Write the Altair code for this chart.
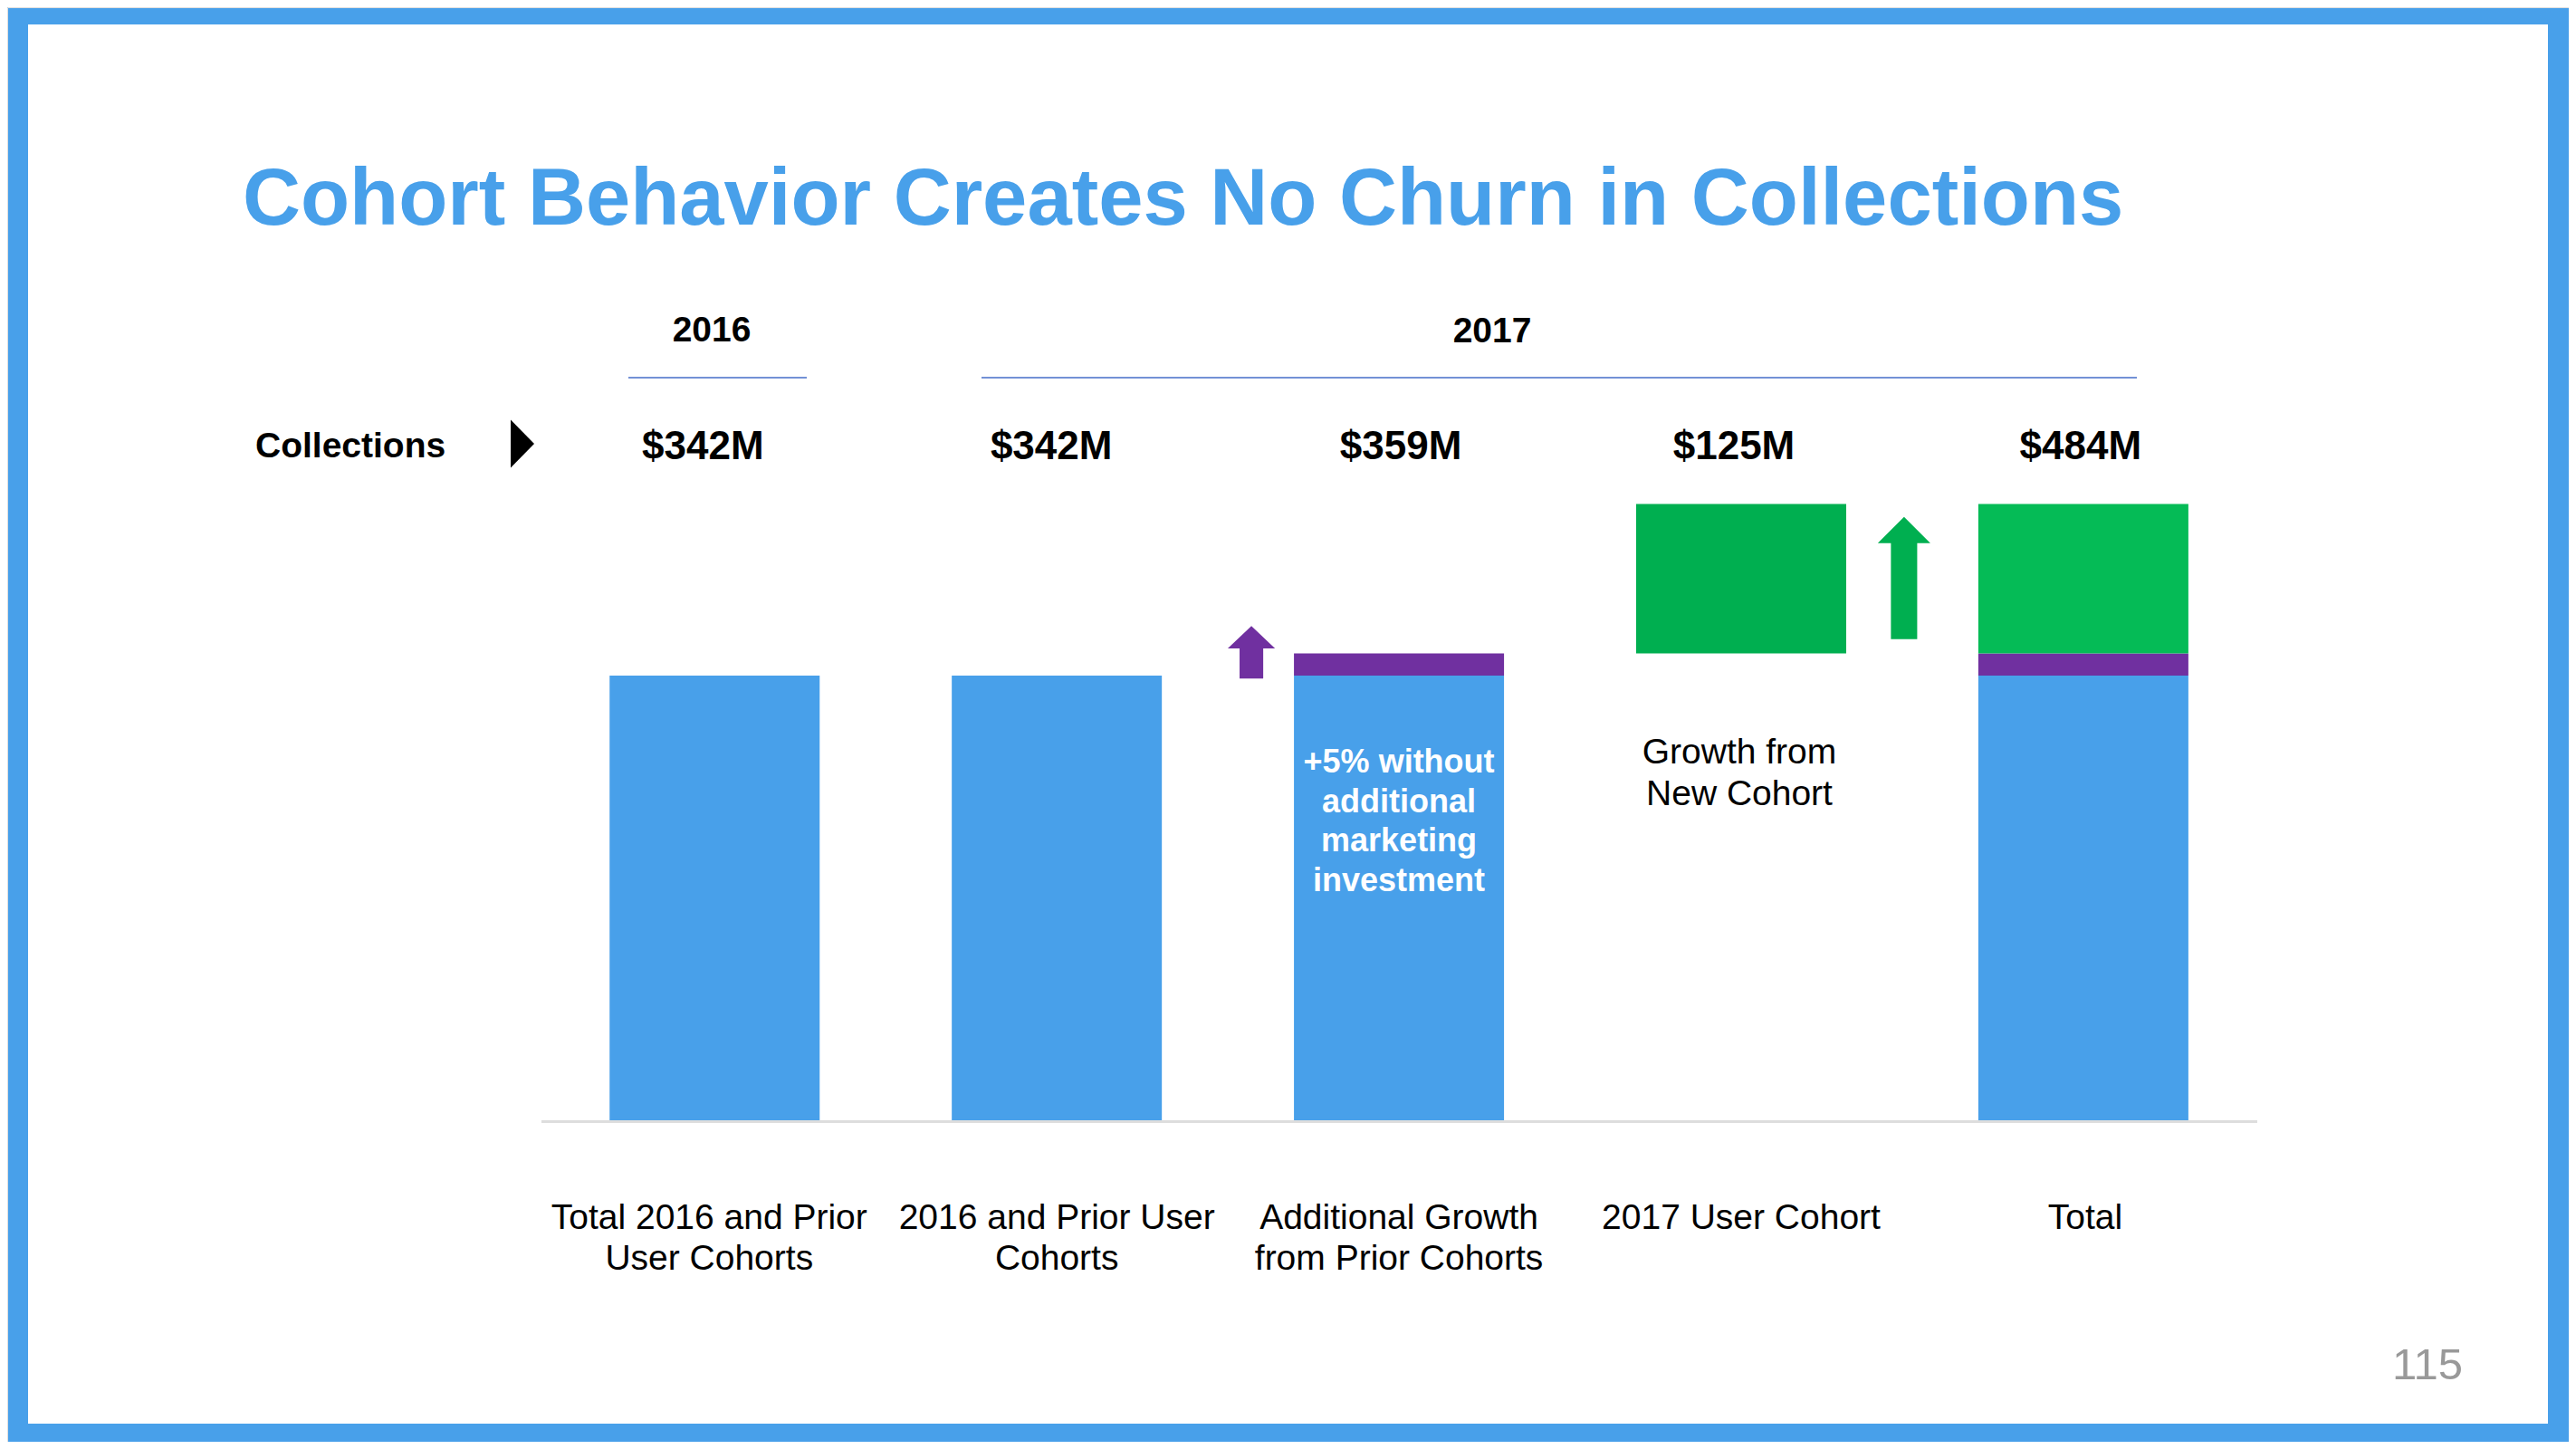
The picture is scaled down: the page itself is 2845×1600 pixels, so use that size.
import altair as alt
import pandas as pd

W, H = 2829, 1584
BLUE = "#48a0ea"
PURPLE = "#7030a0"
GREEN = "#00af50"
GREEN2 = "#05bb56"
FONT = "Liberation Sans"

# ---- data ----
categories = [
    "Total 2016 and Prior User Cohorts",
    "2016 and Prior User Cohorts",
    "Additional Growth from Prior Cohorts",
    "2017 User Cohort",
    "Total",
]
cat_labels = [
    "Total 2016 and Prior\nUser Cohorts",
    "2016 and Prior User\nCohorts",
    "Additional Growth\nfrom Prior Cohorts",
    "2017 User Cohort",
    "Total",
]
collections = ["$342M", "$342M", "$359M", "$125M", "$484M"]

# bar segments ($M, as drawn)
prior_base = [342, 342, 342, 0, 342]
prior_growth = [0, 0, 17, 0, 17]
new_cohort = [0, 0, 0, 115, 115]
new_colors = [GREEN2, GREEN2, GREEN2, GREEN, GREEN2]

title_text = "Cohort Behavior Creates No Churn in Collections"
years = ["2016", "2017"]
page_number = "115"

# small horizontal nudges (px) of the header values and category labels
value_dx = [-13, -6, 2, -8, -3]
label_dx = [-6, 0, 0, 0, 2]

# ---- build tables ----
rows = []
for i, c in enumerate(categories):
    if prior_base[i] > 0:
        rows.append({"slot": i, "cat": c, "start": 0, "end": prior_base[i], "color": BLUE})
    if prior_growth[i] > 0:
        s = 342
        rows.append({"slot": i, "cat": c, "start": s, "end": s + prior_growth[i], "color": PURPLE})
    if new_cohort[i] > 0:
        s = 342 + 17
        rows.append({"slot": i, "cat": c, "start": s, "end": s + new_cohort[i], "color": new_colors[i]})
bars_df = pd.DataFrame(rows)

labels_df = pd.DataFrame({"slot": list(range(len(categories))), "cat": categories,
                          "label": cat_labels, "value": collections})

# layout scales (category slot -> pixels, $M -> pixels)
xscale = alt.Scale(domain=[-2.0541, 5.4054], nice=False, zero=False)
yscale = alt.Scale(domain=[-247.26, 856.03], nice=False, zero=False)
X = alt.X("slot:Q", scale=xscale, axis=None)


def one(text):
    return pd.DataFrame({"t": [text]})


# white slide area
frame = alt.Chart(one("")).mark_rect(color="white").encode(
    x=alt.value(23), x2=alt.value(2806), y=alt.value(19), y2=alt.value(1564)
)

title = alt.Chart(one(title_text)).mark_text(
    align="left", baseline="alphabetic", font=FONT, fontSize=88.6, fontWeight="bold", color=BLUE
).encode(x=alt.value(260), y=alt.value(240), text="t:N")

year16 = alt.Chart(one(years[0])).mark_text(
    align="center", baseline="alphabetic", font=FONT, fontSize=39, fontWeight="bold", color="black"
).encode(x=alt.value(778), y=alt.value(369), text="t:N")
year17 = alt.Chart(one(years[1])).mark_text(
    align="center", baseline="alphabetic", font=FONT, fontSize=39, fontWeight="bold", color="black"
).encode(x=alt.value(1640), y=alt.value(370), text="t:N")

line16 = alt.Chart(one("")).mark_rule(color="#7391d6", strokeWidth=2).encode(
    x=alt.value(686), x2=alt.value(883), y=alt.value(409)
)
line17 = alt.Chart(one("")).mark_rule(color="#7391d6", strokeWidth=2).encode(
    x=alt.value(1076), x2=alt.value(2352), y=alt.value(409)
)

coll = alt.Chart(one("Collections")).mark_text(
    align="left", baseline="alphabetic", font=FONT, fontSize=39, fontWeight="bold", color="black"
).encode(x=alt.value(274), y=alt.value(497), text="t:N")

tri = alt.Chart(one("")).mark_point(
    shape="M -0.49 -1 L 0.49 0 L -0.49 1 Z", size=2809, filled=True, color="black", opacity=1, strokeWidth=0
).encode(x=alt.value(569), y=alt.value(482))

value_layers = []
label_layers = []
for i in range(len(categories)):
    sub = labels_df.iloc[[i]]
    value_layers.append(alt.Chart(sub).mark_text(
        align="center", baseline="alphabetic", font=FONT, fontSize=44, fontWeight="bold",
        color="black", dx=value_dx[i]
    ).encode(x=X, y=alt.value(499), text="value:N"))
    label_layers.append(alt.Chart(sub).mark_text(
        align="center", baseline="alphabetic", font=FONT, fontSize=39, color="black",
        lineBreak="\n", lineHeight=45, dx=label_dx[i]
    ).encode(x=X, y=alt.value(1349), text="label:N"))

baseline = alt.Chart(pd.DataFrame({"v": [0]})).mark_rule(color="#dddddd", strokeWidth=3, yOffset=1.5).encode(
    x=alt.value(590), x2=alt.value(2485), y=alt.Y("v:Q", scale=yscale, axis=None)
)

bars = alt.Chart(bars_df).mark_bar(size=232).encode(
    x=X,
    y=alt.Y("start:Q", scale=yscale, axis=None),
    y2="end:Q",
    color=alt.Color("color:N", scale=None),
)

arrow_purple = alt.Chart(pd.DataFrame({"slot": [2], "v": [360]})).mark_point(
    shape="M -0.45 1 L -0.45 -0.14 L -0.9 -0.14 L 0 -1 L 0.9 -0.14 L 0.45 -0.14 L 0.45 1 Z",
    size=3364, filled=True, color=PURPLE, opacity=1, strokeWidth=0, xOffset=-163,
).encode(x=X, y=alt.Y("v:Q", scale=yscale, axis=None))

arrow_green = alt.Chart(pd.DataFrame({"slot": [4], "v": [417]})).mark_point(
    shape="M -0.215 1 L -0.215 -0.57 L -0.43 -0.57 L 0 -1 L 0.43 -0.57 L 0.215 -0.57 L 0.215 1 Z",
    size=18225, filled=True, color=GREEN, opacity=1, strokeWidth=0, xOffset=-198,
).encode(x=X, y=alt.Y("v:Q", scale=yscale, axis=None))

growth_note = alt.Chart(pd.DataFrame({"slot": [3], "t": ["Growth from\nNew Cohort"]})).mark_text(
    align="center", baseline="alphabetic", font=FONT, fontSize=39, color="black",
    lineBreak="\n", lineHeight=46, dx=-2,
).encode(x=X, y=alt.value(835), text="t:N")

inside_note = alt.Chart(pd.DataFrame({"slot": [2],
                                      "t": ["+5% without\nadditional\nmarketing\ninvestment"]})).mark_text(
    align="center", baseline="alphabetic", font=FONT, fontSize=36, fontWeight="bold", color="white",
    lineBreak="\n", lineHeight=43.5,
).encode(x=X, y=alt.value(845), text="t:N")

pageno = alt.Chart(one(page_number)).mark_text(
    align="right", baseline="alphabetic", font=FONT, fontSize=49, color="#999999"
).encode(x=alt.value(2712), y=alt.value(1515), text="t:N")

chart = alt.layer(
    frame, title, year16, year17, line16, line17, coll, tri, *value_layers,
    baseline, bars, arrow_purple, arrow_green, *label_layers, growth_note, inside_note, pageno,
).properties(
    width=W, height=H, padding=0, autosize=alt.AutoSizeParams(type="none")
).configure_view(stroke=None).configure(background=BLUE)

chart.save("out.html", embed_options={"renderer": "svg", "actions": False})
